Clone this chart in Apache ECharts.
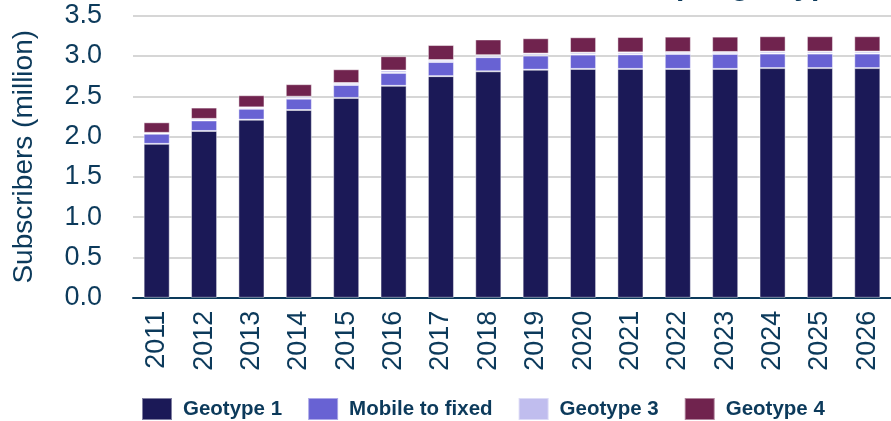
<!DOCTYPE html>
<html>
<head>
<meta charset="utf-8">
<script src="https://cdn.jsdelivr.net/npm/echarts@6/dist/echarts.min.js"></script>
<style>html,body{margin:0;padding:0;background:#fff}#c{width:891px;height:421px}</style>
</head>
<body>
<div id="c"></div>
<script>
var years = ['2011','2012','2013','2014','2015','2016','2017','2018','2019','2020','2021','2022','2023','2024','2025','2026'];
var geotype1 = [1.91,2.07,2.21,2.33,2.48,2.63,2.75,2.81,2.83,2.84,2.84,2.84,2.84,2.85,2.85,2.85];
var mobileToFixed = [0.125,0.13,0.135,0.14,0.16,0.16,0.175,0.175,0.175,0.177,0.18,0.185,0.185,0.18,0.18,0.18];
var geotype3 = [0.012,0.02,0.018,0.025,0.025,0.03,0.025,0.025,0.025,0.025,0.025,0.025,0.025,0.025,0.025,0.025];
var geotype4 = [0.13,0.14,0.15,0.155,0.17,0.177,0.186,0.195,0.19,0.19,0.19,0.19,0.19,0.19,0.19,0.19];
var seriesNames = ['Geotype 1','Mobile to fixed','Geotype 3','Geotype 4'];
var colors = ['#1b1957','#6862d3','#c0bdee','#70234e'];
var titleText = 'Fixed broadband subscribers per geotype';

var chart = echarts.init(document.getElementById('c'), null, {renderer:'canvas'});
var txt = '#0c3a5b';
function mk(name, data, i){
  return {
    name: name, type: 'bar', stack: 'total', data: data,
    barWidth: '55%',
    itemStyle: {color: colors[i], borderColor: 'rgba(255,255,255,0.45)', borderWidth: 1},
    emphasis: {disabled: true}
  };
}
chart.setOption({
  animation: false,
  title: {text: titleText, right: 40, top: -33, textStyle: {fontFamily: 'Liberation Sans', fontSize: 30, fontWeight: 'bold', color: txt}},
  grid: {left: 133, right: -4, top: 15.7, bottom: 123.2, containLabel: false},
  legend: {
    left: 141, top: 397, padding: 0, itemWidth: 30, itemHeight: 22, itemGap: 25,
    icon: 'rect',
    textStyle: {fontFamily: 'Liberation Sans', fontWeight: 'bold', fontSize: 20.5, color: txt, padding: [0,0,0,6]},
    data: seriesNames
  },
  xAxis: {
    type: 'category', data: years,
    axisLine: {lineStyle: {color: txt, width: 2}},
    axisTick: {show: false},
    axisLabel: {rotate: 90, margin: 13, fontFamily: 'Liberation Sans', fontSize: 27, color: txt}
  },
  yAxis: {
    type: 'value', min: 0, max: 3.5, interval: 0.5,
    name: 'Subscribers (million)', nameLocation: 'middle', nameRotate: 90, nameGap: 95,
    nameTextStyle: {fontFamily: 'Liberation Sans', fontSize: 28, color: txt},
    axisLine: {show: false}, axisTick: {show: false},
    axisLabel: {margin: 31, fontFamily: 'Liberation Sans', fontSize: 27, color: txt, formatter: function(v){return v.toFixed(1);}},
    splitLine: {lineStyle: {color: '#c9c9c9', width: 1.5}}
  },
  series: [mk(seriesNames[0], geotype1, 0), mk(seriesNames[1], mobileToFixed, 1), mk(seriesNames[2], geotype3, 2), mk(seriesNames[3], geotype4, 3)]
});
</script>
</body>
</html>
